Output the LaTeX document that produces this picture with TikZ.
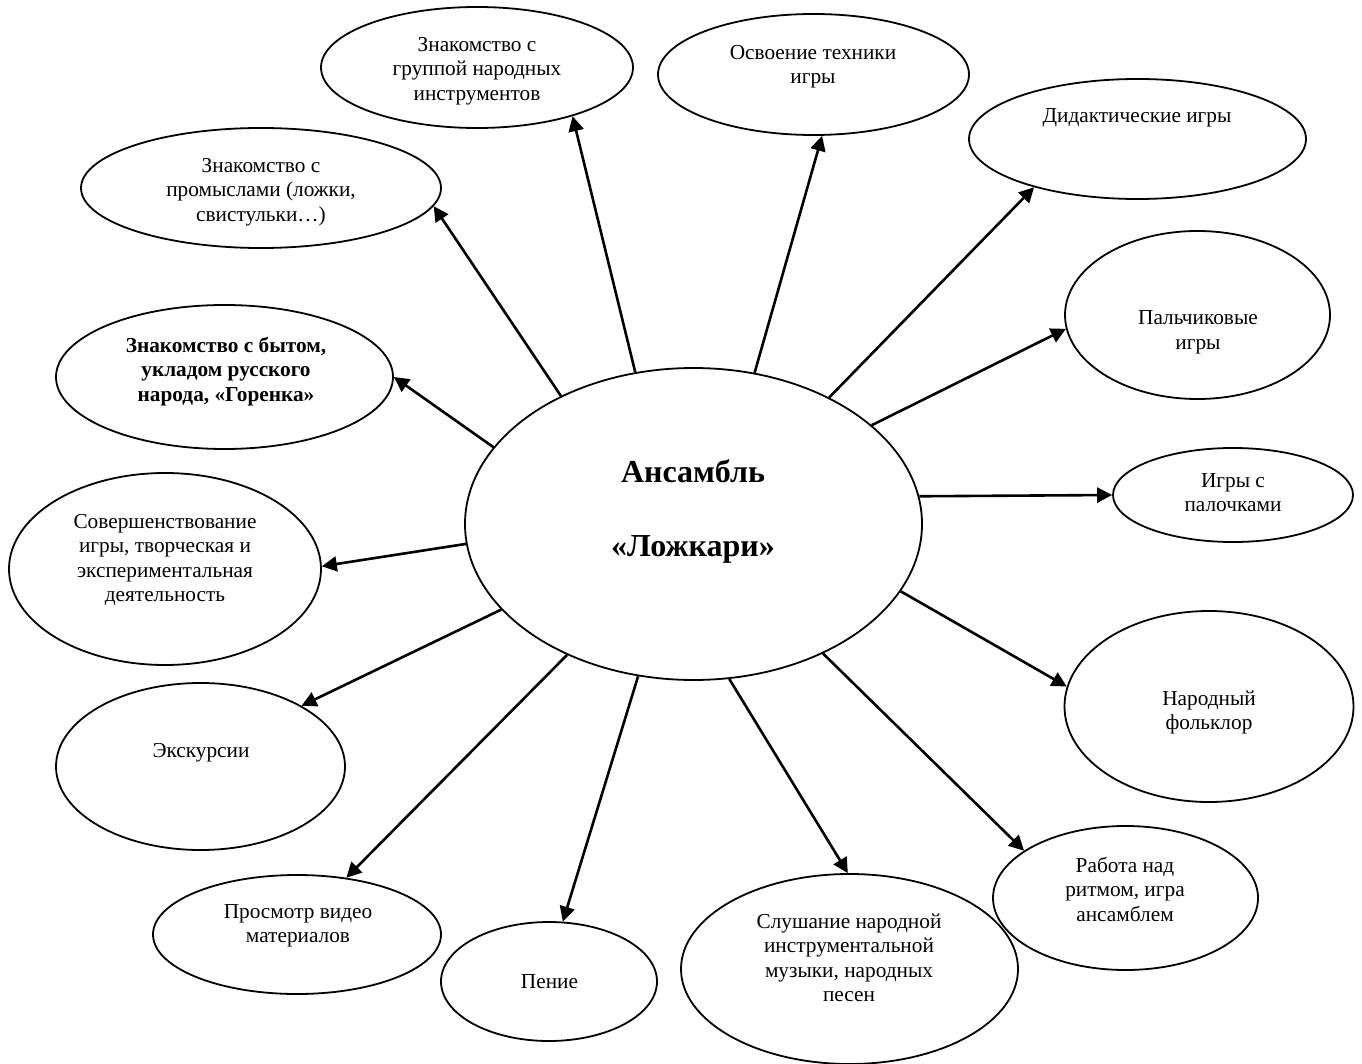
\documentclass[tikz,border=0pt]{standalone}
\usepackage{fontspec}
\setmainfont{Liberation Serif}
\usetikzlibrary{shapes.geometric,arrows.meta}
\tikzset{
  ell/.style={ellipse, draw, line width=1.8pt, inner sep=0pt},
  txt/.style={align=center, inner sep=0pt, font=\fontsize{21.3}{24.5}\selectfont},
  bigtxt/.style={align=center, inner sep=0pt, font=\fontsize{32}{37}\selectfont\bfseries},
  arr/.style={line width=2.6pt, -{Triangle[length=15pt,width=15pt]}}
}
\begin{document}
\begin{tikzpicture}[x=1pt,y=-1pt]
\fill[white] (0,0) rectangle (1362,1064);
\useasboundingbox (0,0) rectangle (1362,1064);
\clip (0,0) rectangle (1362,1064);
% ellipses
\node[ell, minimum width=457pt, minimum height=312pt] (C) at (693.5,524) {};
\node[ell, minimum width=312pt, minimum height=121pt] (G) at (477,67.5) {};
\node[ell, minimum width=360pt, minimum height=120pt] (P) at (261,188) {};
\node[ell, minimum width=337pt, minimum height=144pt] (B) at (224.5,377) {};
\node[ell, minimum width=311pt, minimum height=121pt] (O) at (813.5,74.5) {};
\node[ell, minimum width=337pt, minimum height=120pt] (D) at (1137.5,139) {};
\node[ell, minimum width=265pt, minimum height=168pt] (Pa) at (1197.5,315) {};
\node[ell, minimum width=240pt, minimum height=94pt] (I) at (1233,495) {};
\node[ell, minimum width=289pt, minimum height=191pt] (N) at (1209,706.5) {};
\node[ell, minimum width=265pt, minimum height=144pt] (R) at (1125.5,898) {};
\node[ell, minimum width=337pt, minimum height=190pt] (S) at (849.5,969) {};
\node[ell, minimum width=216pt, minimum height=119pt] (Pe) at (549,981.5) {};
\node[ell, minimum width=288pt, minimum height=119pt] (Pr) at (297,934.5) {};
\node[ell, minimum width=289pt, minimum height=167pt] (E) at (200.5,766.5) {};
\node[ell, minimum width=312pt, minimum height=192pt] (So) at (165,569) {};
% texts
\node[bigtxt] (Ct) at (693,512) {\strut Ансамбль\\[37pt]«Ложкари»\strut};
\node[txt] (Gt) at (477,70.7) {\strut Знакомство с\\группой народных\\инструментов\strut};
\node[txt] (Pt) at (261,192) {\strut Знакомство с\\промыслами (ложки,\\свистульки…)\strut};
\node[txt, font=\fontsize{21.3}{24.5}\selectfont\bfseries] (Bt) at (226,371.7) {\strut Знакомство с бытом,\\укладом русского\\народа, «Горенка»\strut};
\node[txt] (Ot) at (813,66.5) {\strut Освоение техники\\игры\strut};
\node[txt] (Dt) at (1137,118) {\strut Дидактические игры\strut};
\node[txt] (Pat) at (1198,332) {\strut Пальчиковые\\игры\strut};
\node[txt] (It) at (1233,494.5) {\strut Игры с\\палочками\strut};
\node[txt] (Nt) at (1209,712.5) {\strut Народный\\фольклор\strut};
\node[txt] (Rt) at (1125,892) {\strut Работа над\\ритмом, игра\\ансамблем\strut};
\node[txt] (St) at (849,960) {\strut Слушание народной\\инструментальной\\музыки, народных\\песен\strut};
\node[txt] (Pet) at (549.5,983.5) {\strut Пение\strut};
\node[txt] (Prt) at (298,925.5) {\strut Просмотр видео\\материалов\strut};
\node[txt] (Et) at (201,753) {\strut Экскурсии\strut};
\node[txt] (Sot) at (165,560) {\strut Совершенствование\\игры, творческая и\\экспериментальная\\деятельность\strut};
% arrows
\draw[arr] (C.159.3) -- (B.0.7);
\draw[arr] (C.136.4) -- (P.-6.3);
\draw[arr] (C.111.8) -- (G.-27.6);
\draw[arr] (C.68.5) -- (O.-82.4);
\draw[arr] (C.43.6) -- (D.-155);
\draw[arr] (C.29.4) -- (Pa.-174.5);
\draw[arr] (C.7.2) -- (I.180);
\draw[arr] (C.-18.5) -- (N.172);
\draw[arr] (C.-45.5) -- (R.155.9);
\draw[arr] (C.-77.4) -- (S.91);
\draw[arr] (C.-110.8) -- (Pe.77.2);
\draw[arr] (C.-134.7) -- (Pr.49.9);
\draw[arr] (C.-156.9) -- (E.31.1);
\draw[arr] (C.-175.2) -- (So.1.1);
\end{tikzpicture}
\end{document}
